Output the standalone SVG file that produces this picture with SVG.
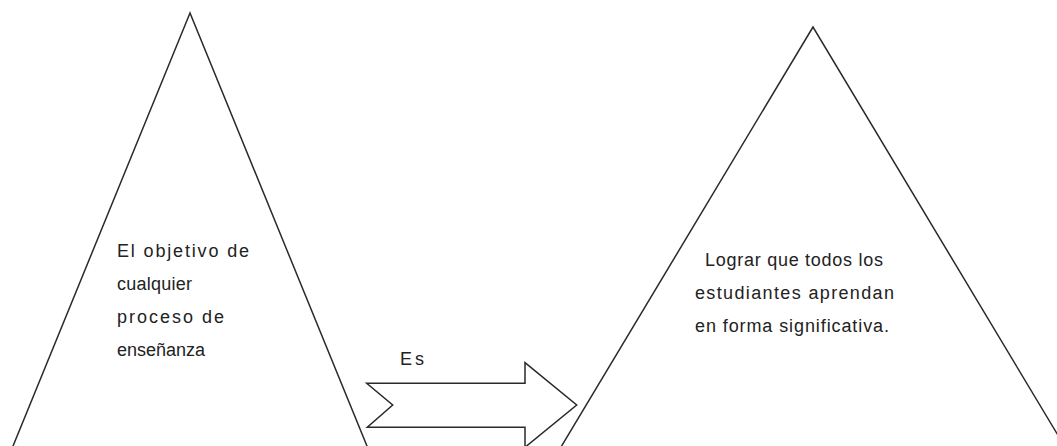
<svg xmlns="http://www.w3.org/2000/svg" width="1057" height="446" viewBox="0 0 1057 446">
<style>
.shape{fill:none;stroke:#2a2a2a;stroke-width:1.5;stroke-linejoin:miter}
.t{font-family:"Liberation Sans",Arial,sans-serif;font-size:18px;fill:#222}
</style>
<rect width="1057" height="446" fill="#fff"/>
<g id="triangle-left">
<polygon class="shape" points="190,13 11.4,450 368.6,450"/>
<text class="t" x="117" y="257" textLength="132" lengthAdjust="spacing">El objetivo de</text>
<text class="t" x="117" y="290" textLength="75" lengthAdjust="spacing">cualquier</text>
<text class="t" x="117" y="323" textLength="107" lengthAdjust="spacing">proceso de</text>
<text class="t" x="117" y="356" textLength="88" lengthAdjust="spacing">enseñanza</text>
</g>
<g id="triangle-right">
<polygon class="shape" points="813,27 559.2,450 1066.8,450"/>
<text class="t" x="705" y="266" textLength="178" lengthAdjust="spacing">Lograr que todos los</text>
<text class="t" x="695" y="299" textLength="199" lengthAdjust="spacing">estudiantes aprendan</text>
<text class="t" x="695" y="332" textLength="194" lengthAdjust="spacing">en forma significativa.</text>
</g>
<g id="connectors">
<path class="shape" d="M366.7,383.3 L525,383.3 L525,362.7 L576.7,405 L525,447.3 L525,427.3 L367.3,427.3 L392.7,405 Z"/>
<text class="t" x="400" y="365" textLength="24" lengthAdjust="spacing">Es</text>
</g>
</svg>
